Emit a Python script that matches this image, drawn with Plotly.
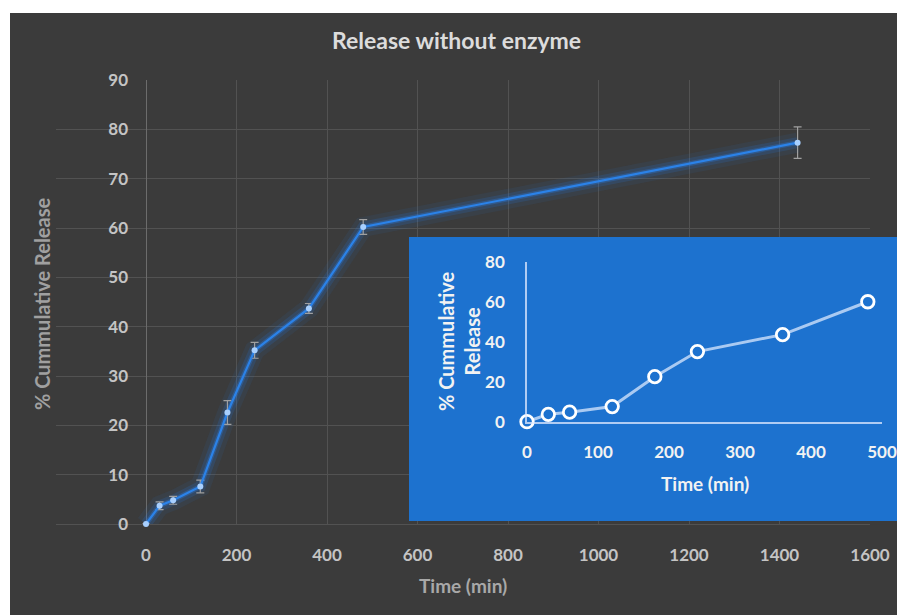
import plotly.graph_objects as go

# ---- data ----
time_min = [0, 30, 60, 120, 180, 240, 360, 480, 1440]
release_pct = [0, 3.7, 4.8, 7.6, 22.6, 35.2, 43.7, 60.2, 77.3]
release_err = [0, 0.8, 0.8, 1.3, 2.4, 1.6, 1.0, 1.5, 3.2]

inset_time = time_min[:8]
inset_release = release_pct[:8]

main_xticks = [-200, 0, 200, 400, 600, 800, 1000, 1200, 1400, 1600]
main_xticklabels = ["", "0", "200", "400", "600", "800", "1000", "1200", "1400", "1600"]
main_yticks = [0, 10, 20, 30, 40, 50, 60, 70, 80, 90]
inset_xticks = [0, 100, 200, 300, 400, 500]
inset_yticks = [0, 20, 40, 60, 80]

title_text = "Release without enzyme"
x_title = "Time (min)"
y_title = "% Cummulative Release"
inset_y_title = "% Cummulative<br>Release"

W, H = 897, 615
def px(x):
    return x / W
def py(y):
    return 1 - y / H

DARK = "#3b3b3b"
GRID = "#525252"
BLUE_BOX = "#1d72cf"
FONT = "Lato"

fig = go.Figure()

# main: glow layers
for w, a in [(20, 0.08), (11, 0.16), (5, 0.3)]:
    fig.add_trace(go.Scatter(x=time_min, y=release_pct, mode="lines",
                             line=dict(color=f"rgba(40,125,235,{a})", width=w),
                             hoverinfo="skip", showlegend=False, cliponaxis=False,
                             xaxis="x", yaxis="y"))
fig.add_trace(go.Scatter(
    x=time_min, y=release_pct, mode="lines+markers",
    line=dict(color="#2b82e8", width=2.2),
    marker=dict(size=6, color="#a8d0ff", line=dict(width=0)),
    error_y=dict(type="data", array=release_err, color="#a0a0a0", thickness=1.2, width=4),
    showlegend=False, cliponaxis=False, xaxis="x", yaxis="y"))

# inset box background (its own hidden subplot)
fig.add_trace(go.Scatter(x=[0, 1, 1, 0, 0], y=[0, 0, 1, 1, 0], mode="lines",
                         fill="toself", fillcolor=BLUE_BOX, line=dict(width=0, color=BLUE_BOX),
                         hoverinfo="skip", showlegend=False, xaxis="x2", yaxis="y2"))

# inset data
fig.add_trace(go.Scatter(
    x=inset_time, y=inset_release, mode="lines+markers",
    line=dict(color="rgba(225,235,255,0.72)", width=3),
    marker=dict(size=12.5, color=BLUE_BOX, line=dict(color="#ffffff", width=2.8)),
    showlegend=False, cliponaxis=False, xaxis="x3", yaxis="y3"))

tick_main = dict(family=FONT, size=17, color="#c4c4c4", weight="bold")
tick_inset = dict(family=FONT, size=17, color="#f2f2f2", weight="bold")

fig.update_layout(
    template="none",
    width=W, height=H,
    margin=dict(l=0, r=0, t=0, b=0, pad=0, autoexpand=False),
    paper_bgcolor="white",
    plot_bgcolor="rgba(0,0,0,0)",
    showlegend=False,
    xaxis=dict(domain=[px(55.5), px(870)], range=[-200, 1600],
               tickmode="array", tickvals=main_xticks, ticktext=main_xticklabels,
               showgrid=True, gridcolor=GRID, gridwidth=1,
               zeroline=True, zerolinecolor="#6c6c6c", zerolinewidth=1.2,
               showline=False, ticks="", tickfont=tick_main, ticklabelstandoff=19,
               ticklabeloverflow="allow",
               anchor="y", fixedrange=True, automargin=False),
    yaxis=dict(domain=[py(524), py(80)], range=[0, 90],
               tickmode="array", tickvals=main_yticks,
               showgrid=True, gridcolor=GRID, gridwidth=1,
               zeroline=True, zerolinecolor=GRID,
               showline=False, ticks="", tickfont=tick_main, ticklabelstandoff=18,
               ticklabeloverflow="allow",
               anchor="free", position=px(146), fixedrange=True, automargin=False),
    xaxis2=dict(domain=[px(409), 1.0], range=[0, 1], visible=False, fixedrange=True,
                anchor="y2", automargin=False),
    yaxis2=dict(domain=[py(521), py(237)], range=[0, 1], visible=False, fixedrange=True,
                anchor="x2", automargin=False),
    xaxis3=dict(domain=[px(527), px(882)], range=[0, 500], tickvals=inset_xticks,
                showgrid=False, zeroline=False, showline=True, linecolor="rgba(225,235,255,0.75)",
                linewidth=1.5, ticks="", tickfont=tick_inset, ticklabelstandoff=14,
                ticklabeloverflow="allow",
                anchor="y3", fixedrange=True, automargin=False),
    yaxis3=dict(domain=[py(421.7), py(262.3)], range=[0, 80], tickvals=inset_yticks,
                showgrid=False, zeroline=False, showline=True, linecolor="rgba(225,235,255,0.75)",
                linewidth=1.5, ticks="", tickfont=tick_inset, ticklabelstandoff=17,
                ticklabeloverflow="allow",
                anchor="x3", fixedrange=True, automargin=False),
    shapes=[dict(type="rect", xref="paper", yref="paper", x0=px(10), x1=1, y0=0, y1=py(13),
                 fillcolor=DARK, line=dict(width=0), layer="below")],
    annotations=[
        dict(text=title_text, x=px(457), y=py(40), xref="paper", yref="paper",
             showarrow=False, xanchor="center", yanchor="middle",
             font=dict(family=FONT, size=23, color="#dcdcdc", weight="bold")),
        dict(text=x_title, x=px(463), y=py(585), xref="paper", yref="paper",
             showarrow=False, xanchor="center", yanchor="middle",
             font=dict(family=FONT, size=19, color="#a8a8a8", weight="bold")),
        dict(text=y_title, x=px(42), y=py(304), xref="paper", yref="paper", textangle=-90,
             showarrow=False, xanchor="center", yanchor="middle",
             font=dict(family=FONT, size=20, color="#a0a0a0", weight="bold")),
        dict(text=x_title, x=px(705), y=py(483), xref="paper", yref="paper",
             showarrow=False, xanchor="center", yanchor="middle",
             font=dict(family=FONT, size=19, color="#f2f2f2", weight="bold")),
        dict(text=inset_y_title, x=px(459), y=py(342), xref="paper", yref="paper", textangle=-90,
             showarrow=False, xanchor="center", yanchor="middle",
             font=dict(family=FONT, size=20, color="#f2f2f2", weight="bold")),
    ],
)

fig.write_html("out.html")
